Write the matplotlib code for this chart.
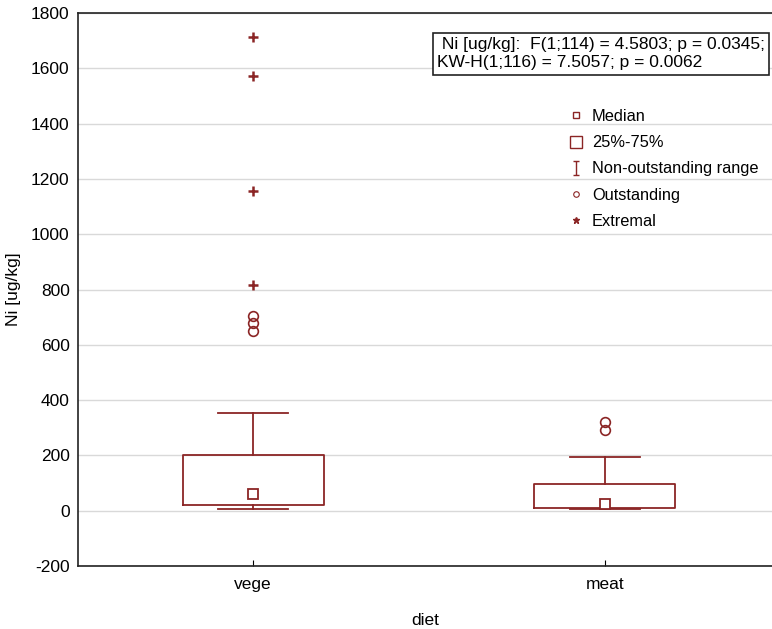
import matplotlib.pyplot as plt
from matplotlib.lines import Line2D
from matplotlib.path import Path
import numpy as np

plt.rcParams['font.family'] = ['Liberation Sans', 'DejaVu Sans']
plt.rcParams['axes.unicode_minus'] = False

groups = ['vege', 'meat']
q1 = [20, 10]
q3 = [200, 98]
medians = [62, 25]
whis_lo = [5, 5]
whis_hi = [352, 196]
outstanding = [[650, 680, 705], [292, 320]]
extremal = [[815, 1155, 1572, 1715], []]

stat_text = ' Ni [ug/kg]:  F(1;114) = 4.5803; p = 0.0345;\nKW-H(1;116) = 7.5057; p = 0.0062'
legend_labels = ['Median', '25%-75%', 'Non-outstanding range', 'Outstanding', 'Extremal']

red = '#8b2525'
fs = 12.5

fig = plt.figure(figsize=(7.72, 6.29), dpi=100)
ax = fig.add_axes([78/772, 1 - 566/629, 1 - 78/772, (566 - 13)/629])

stats = []
for i in range(len(groups)):
	stats.append(dict(med=medians[i], q1=q1[i], q3=q3[i],
					  whislo=whis_lo[i], whishi=whis_hi[i],
					  fliers=outstanding[i], label=groups[i]))

pos = np.arange(len(groups))
ax.bxp(stats, positions=pos, widths=0.4, capwidths=0.2,
	   boxprops=dict(color=red, lw=1.3),
	   whiskerprops=dict(color=red, lw=1.3),
	   capprops=dict(color=red, lw=1.3),
	   medianprops=dict(lw=0),
	   flierprops=dict(marker='o', mfc='none', mec=red, ms=7, mew=1.2),
	   zorder=3)

ax.plot(pos, medians, ls='none', marker='s', ms=7, mfc='white', mec=red, mew=1.3, zorder=4)
for i in range(len(groups)):
	if extremal[i]:
		ax.plot([pos[i]] * len(extremal[i]), extremal[i], ls='none', marker='+',
				ms=7, mew=1.8, color=red, zorder=4)

ax.set_xlim(-0.4986, 1.476)
ax.set_ylim(-200, 1800)
ax.set_yticks(np.arange(-200, 1801, 200))
ax.set_xticks(pos)
ax.set_xticklabels(groups)
ax.grid(axis='y', color='#d9d9d9', lw=1)
ax.set_axisbelow(True)
ax.spines['right'].set_visible(False)
for s in ['left', 'top', 'bottom']:
	ax.spines[s].set_linewidth(1.2)
	ax.spines[s].set_color('#222222')
ax.tick_params(axis='y', length=0, pad=6, labelsize=fs)
ax.tick_params(axis='x', direction='in', length=4, pad=8, labelsize=fs)
ax.set_xlabel('diet', fontsize=fs, labelpad=15)
ax.set_ylabel('Ni [ug/kg]', fontsize=fs, labelpad=7)

fig.text(437/772, 1 - 54/629, stat_text, fontsize=fs, va='center', ha='left',
		 linespacing=1.25,
		 bbox=dict(boxstyle='square,pad=0.25', fc='white', ec='#222222', lw=1.2))

range_marker = Path([(-0.5, -1), (0.5, -1), (0, -1), (0, 1), (-0.5, 1), (0.5, 1)],
					[Path.MOVETO, Path.LINETO, Path.MOVETO, Path.LINETO, Path.MOVETO, Path.LINETO])
handles = [
	Line2D([], [], ls='none', marker='s', ms=4, mfc='white', mec=red, mew=1),
	Line2D([], [], ls='none', marker='s', ms=9, mfc='white', mec=red, mew=1),
	Line2D([], [], ls='none', marker=range_marker, ms=10, mfc='none', mec=red, mew=1),
	Line2D([], [], ls='none', marker='o', ms=4, mfc='white', mec=red, mew=0.8),
	Line2D([], [], ls='none', marker='*', ms=5, color=red),
]
fig.legend(handles, legend_labels, loc='upper left', bbox_to_anchor=(560/772, 1 - 101/629),
		   frameon=False, fontsize=11.8, handlelength=1.0, handletextpad=0.45,
		   labelspacing=0.68, borderpad=0)

fig.savefig('out.png', dpi=100)
